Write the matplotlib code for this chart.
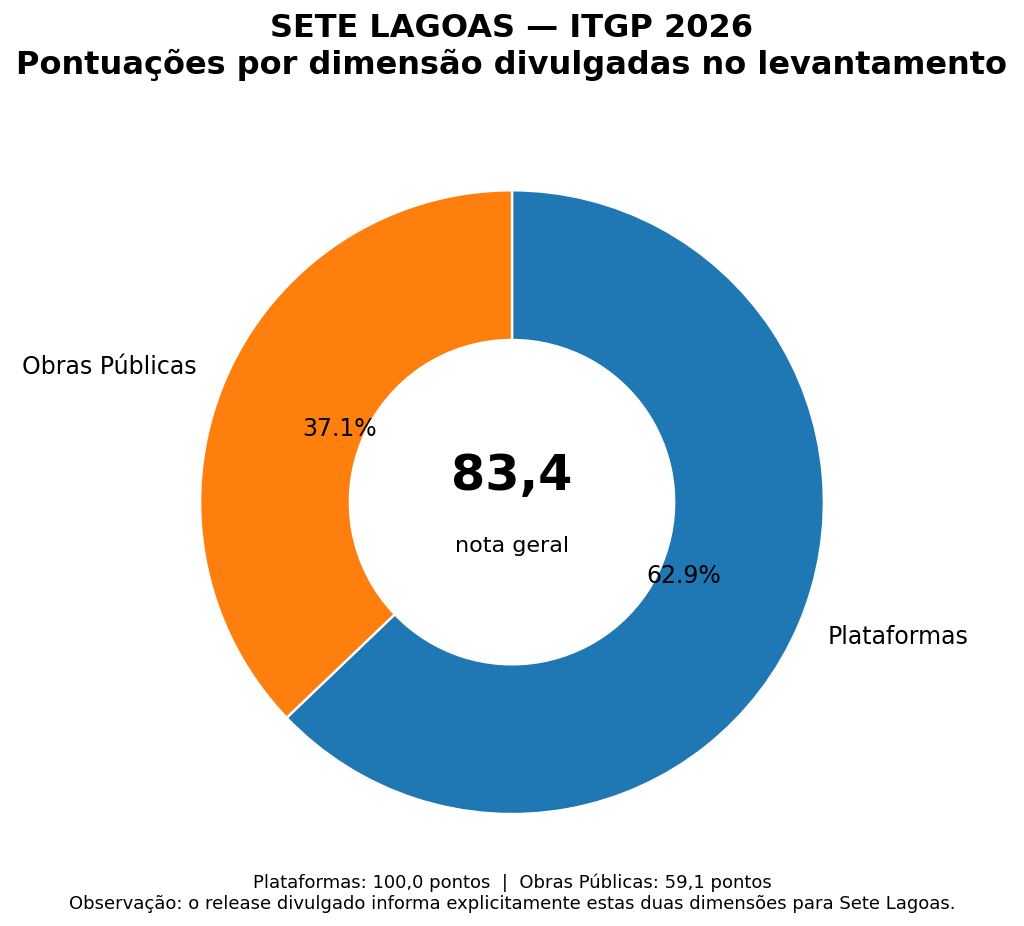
import matplotlib
matplotlib.use("Agg")
import matplotlib.pyplot as plt

# pontuações divulgadas
dimensoes = ["Plataformas", "Obras Públicas"]
pontos = [100.0, 59.1]
cores = ["#1f77b4", "#ff7f0e"]
nota_geral = "83,4"

fig = plt.figure(figsize=(10.24, 9.26), dpi=100)
ax = fig.add_axes([0.119, 0.0367, 0.762, 0.842])

wedges, texts, autotexts = ax.pie(
    pontos, labels=dimensoes, colors=cores, startangle=90, counterclock=False,
    autopct="%1.1f%%", pctdistance=0.6, labeldistance=1.1,
    wedgeprops=dict(width=0.48, edgecolor="white", linewidth=1.7),
    textprops=dict(fontsize=17))
ax.set_aspect("equal")

ax.text(0, 0.085, nota_geral, ha="center", va="center", fontsize=35.5, fontweight="bold")
ax.text(0, -0.14, "nota geral", ha="center", va="center", fontsize=16)

fig.suptitle("SETE LAGOAS — ITGP 2026\nPontuações por dimensão divulgadas no levantamento",
             fontsize=23, fontweight="bold", y=0.986)

fig.text(0.5, 0.035,
         "Plataformas: 100,0 pontos  |  Obras Públicas: 59,1 pontos\n"
         "Observação: o release divulgado informa explicitamente estas duas dimensões para Sete Lagoas.",
         ha="center", va="center", fontsize=13)

fig.savefig("out.png", dpi=100)
